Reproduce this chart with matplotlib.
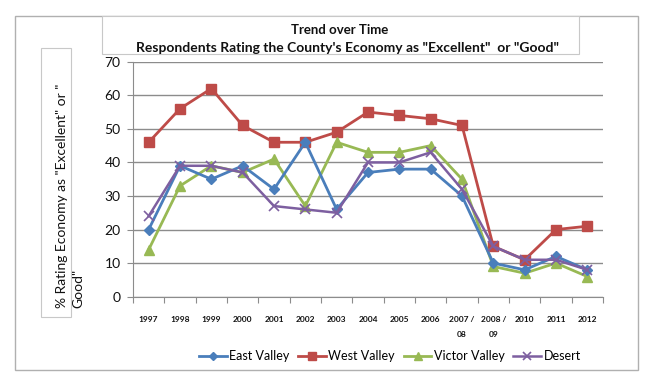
import matplotlib
matplotlib.use("Agg")
import matplotlib.pyplot as plt
from matplotlib.patches import Rectangle

plt.rcParams['font.family'] = ['Lato', 'DejaVu Sans']

years = ['1997', '1998', '1999', '2000', '2001', '2002', '2003', '2004', '2005',
         '2006', '2007 /\n08', '2008 /\n09', '2010', '2011', '2012']
east_valley = [20, 39, 35, 39, 32, 46, 26, 37, 38, 38, 30, 10, 8, 12, 8]
west_valley = [46, 56, 62, 51, 46, 46, 49, 55, 54, 53, 51, 15, 11, 20, 21]
victor_valley = [14, 33, 39, 37, 41, 27, 46, 43, 43, 45, 35, 9, 7, 10, 6]
desert = [24, 39, 39, 37, 27, 26, 25, 40, 40, 43, 32, 15, 11, 11, 8]
yticks = [0, 10, 20, 30, 40, 50, 60, 70]

W, H = 650, 385
fig = plt.figure(figsize=(W / 100, H / 100), dpi=100)

def fx(px):
    return px / W

def fy(py):
    return 1 - py / H

# outer chart border
fig.patches.append(Rectangle((fx(15), fy(370)), fx(638 - 15), (370 - 16) / H,
                             transform=fig.transFigure, fill=False,
                             edgecolor='#b0b0b0', linewidth=1.0))

ax = fig.add_axes([fx(133), fy(296.7), fx(603 - 133), (296.7 - 61.7) / H])

x = list(range(len(years)))
ax.plot(x, east_valley, color='#4a7ebb', marker='D', markersize=5.5, linewidth=2,
        label='East Valley', zorder=4)
ax.plot(x, west_valley, color='#be4b48', marker='s', markersize=7.5, linewidth=2,
        label='West Valley', zorder=3)
ax.plot(x, victor_valley, color='#98b954', marker='^', markersize=7.5, linewidth=2,
        label='Victor Valley', zorder=3)
ax.plot(x, desert, color='#7d5fa0', marker='x', markersize=7, markeredgewidth=1.2,
        linewidth=1.8, label='Desert', zorder=5)

ax.set_xlim(-0.5, len(years) - 0.5)
ax.set_ylim(0, 70)
ax.set_yticks(yticks)
ax.set_yticklabels([str(v) for v in yticks], fontsize=10, color='#111111')
ax.yaxis.grid(True, color='#8c8c8c', linewidth=1.0)
ax.set_axisbelow(True)

ax.set_xticks([i + 0.5 for i in range(-1, len(years))], minor=False)
ax.set_xticklabels([])
ax.set_xticks(x, minor=True)
ax.set_xticklabels(years, minor=True, fontsize=6, fontweight='bold', color='#111111',
                   linespacing=2.3)
ax.tick_params(axis='x', which='minor', length=0, pad=14)
ax.tick_params(axis='x', which='major', length=4, color='#8c8c8c', direction='out')
ax.tick_params(axis='y', length=4, color='#8c8c8c', direction='out', pad=5)

for side in ['top', 'right']:
    ax.spines[side].set_visible(False)
ax.spines['left'].set_color('#8c8c8c')
ax.spines['bottom'].set_color('#8c8c8c')

# title box
fig.patches.append(Rectangle((fx(102), fy(54)), fx(579 - 102), (54 - 16) / H,
                             transform=fig.transFigure, facecolor='white',
                             edgecolor='#c8c8c8', linewidth=0.8, zorder=5))
fig.text(fx(340), fy(30), 'Trend over Time', ha='center', va='center',
         fontsize=9.5, fontweight='bold', color='#111111', zorder=6)
fig.text(fx(347), fy(48), 'Respondents Rating the County\'s Economy as "Excellent"  or "Good"',
         ha='center', va='center', fontsize=10, fontweight='bold', color='#111111', zorder=6)

# y label box
fig.patches.append(Rectangle((fx(41), fy(317)), fx(71 - 41), (317 - 48) / H,
                             transform=fig.transFigure, facecolor='white',
                             edgecolor='#c8c8c8', linewidth=0.8, zorder=1))
fig.text(fx(70), fy(308), '% Rating Economy as "Excellent" or "\nGood"',
         rotation=90, ha='center', va='bottom', multialignment='left',
         fontsize=10, color='#111111', linespacing=1.45, zorder=6)

leg = fig.legend(loc='center', bbox_to_anchor=(fx(390), fy(356)), ncol=4,
                 frameon=False, fontsize=9, handlelength=2.2, columnspacing=0.7,
                 handletextpad=0.2, markerscale=0.8)

fig.savefig('out.png', dpi=100)
